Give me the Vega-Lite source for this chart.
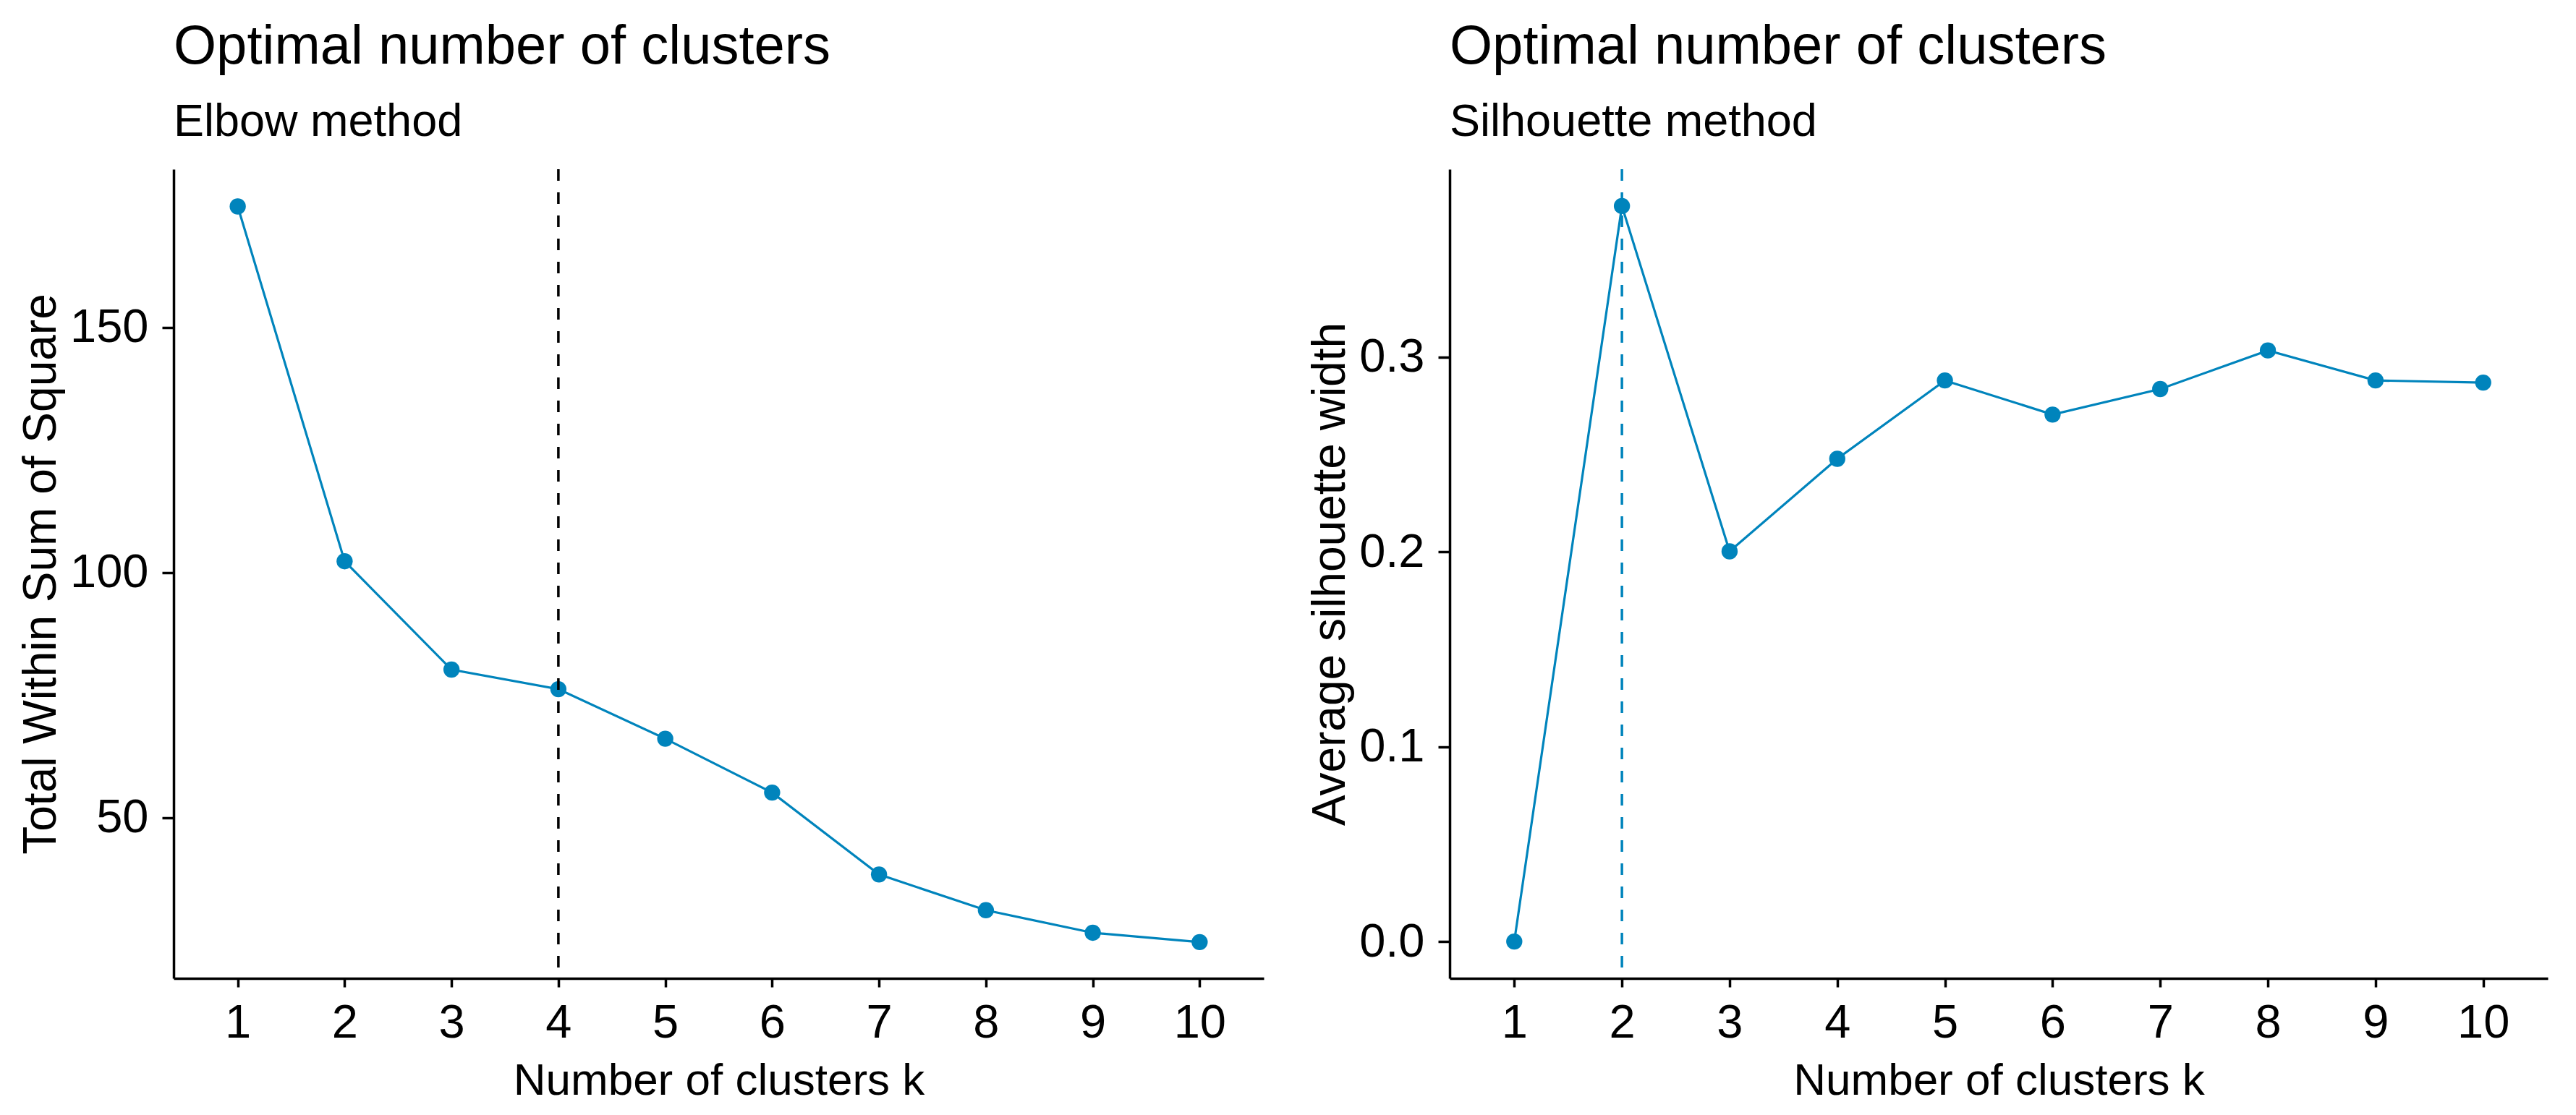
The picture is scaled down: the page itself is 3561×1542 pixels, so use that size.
{
  "$schema": "https://vega.github.io/schema/vega-lite/v6.json",
  "background": "white",
  "padding": {"left": 25, "top": 27, "right": 5, "bottom": 5},
  "autosize": {"type": "pad"},
  "spacing": 60,
  "config": {
    "font": "Liberation Sans",
    "view": {"stroke": null},
    "axis": {
      "grid": false,
      "domainColor": "black",
      "domainWidth": 3.5,
      "tickColor": "black",
      "tickWidth": 3.5,
      "labelFontSize": 65,
      "labelColor": "black",
      "titleFontWeight": "normal",
      "titleColor": "black"
    },
    "axisX": {"tickSize": 12, "labelPadding": 18, "titlePadding": 17, "titleFontSize": 62},
    "axisY": {"tickSize": 16, "labelPadding": 19, "titlePadding": 7, "titleFontSize": 64},
    "title": {
      "anchor": "start",
      "frame": "group",
      "fontSize": 76,
      "fontWeight": "normal",
      "color": "black",
      "subtitleFontSize": 63,
      "subtitleColor": "black",
      "subtitlePadding": 34,
      "offset": 30
    }
  },
  "hconcat": [
    {
      "title": {"text": "Optimal number of clusters", "subtitle": "Elbow method"},
      "width": 1507,
      "height": 1119,
      "data": {"values": [
        {"k": 1, "wss": 174.7},
        {"k": 2, "wss": 102.3},
        {"k": 3, "wss": 80.2},
        {"k": 4, "wss": 76.2},
        {"k": 5, "wss": 66.1},
        {"k": 6, "wss": 55.1},
        {"k": 7, "wss": 38.4},
        {"k": 8, "wss": 31.1},
        {"k": 9, "wss": 26.5},
        {"k": 10, "wss": 24.6}
      ]},
      "layer": [
        {
          "mark": {"type": "line", "color": "#0084BC", "strokeWidth": 3.2},
          "encoding": {
            "x": {"field": "k", "type": "quantitative", "scale": {"domain": [0.4, 10.6], "nice": false, "zero": false}, "axis": {"values": [1,2,3,4,5,6,7,8,9,10], "format": "d", "title": "Number of clusters k", "labelFlush": false, "labelOverlap": false}},
            "y": {"field": "wss", "type": "quantitative", "scale": {"domain": [17.2, 182.3], "nice": false, "zero": false}, "axis": {"values": [50, 100, 150], "title": "Total Within Sum of Square", "labelOverlap": false}}
          }
        },
        {
          "mark": {"type": "point", "filled": true, "opacity": 1, "size": 500, "color": "#0084BC"},
          "encoding": {
            "x": {"field": "k", "type": "quantitative"},
            "y": {"field": "wss", "type": "quantitative"}
          }
        },
        {
          "data": {"values": [{"k": 4}]},
          "mark": {"type": "rule", "color": "black", "strokeWidth": 3.5, "strokeDash": [16, 16]},
          "encoding": {
            "x": {"field": "k", "type": "quantitative"}
          }
        }
      ]
    },
    {
      "title": {"text": "Optimal number of clusters", "subtitle": "Silhouette method"},
      "width": 1518,
      "height": 1119,
      "data": {"values": [
        {"k": 1, "sil": 0.0},
        {"k": 2, "sil": 0.3774},
        {"k": 3, "sil": 0.2002},
        {"k": 4, "sil": 0.2477},
        {"k": 5, "sil": 0.2879},
        {"k": 6, "sil": 0.2704},
        {"k": 7, "sil": 0.2835},
        {"k": 8, "sil": 0.3033},
        {"k": 9, "sil": 0.2879},
        {"k": 10, "sil": 0.2868}
      ]},
      "layer": [
        {
          "mark": {"type": "line", "color": "#0084BC", "strokeWidth": 3.2},
          "encoding": {
            "x": {"field": "k", "type": "quantitative", "scale": {"domain": [0.4, 10.6], "nice": false, "zero": false}, "axis": {"values": [1,2,3,4,5,6,7,8,9,10], "format": "d", "title": "Number of clusters k", "labelFlush": false, "labelOverlap": false}},
            "y": {"field": "sil", "type": "quantitative", "scale": {"domain": [-0.0189, 0.3963], "nice": false, "zero": false}, "axis": {"values": [0, 0.1, 0.2, 0.3], "format": ".1f", "title": "Average silhouette width", "labelOverlap": false}}
          }
        },
        {
          "mark": {"type": "point", "filled": true, "opacity": 1, "size": 500, "color": "#0084BC"},
          "encoding": {
            "x": {"field": "k", "type": "quantitative"},
            "y": {"field": "sil", "type": "quantitative"}
          }
        },
        {
          "data": {"values": [{"k": 2}]},
          "mark": {"type": "rule", "color": "#0084BC", "strokeWidth": 3.5, "strokeDash": [16, 16]},
          "encoding": {
            "x": {"field": "k", "type": "quantitative"}
          }
        }
      ]
    }
  ]
}
